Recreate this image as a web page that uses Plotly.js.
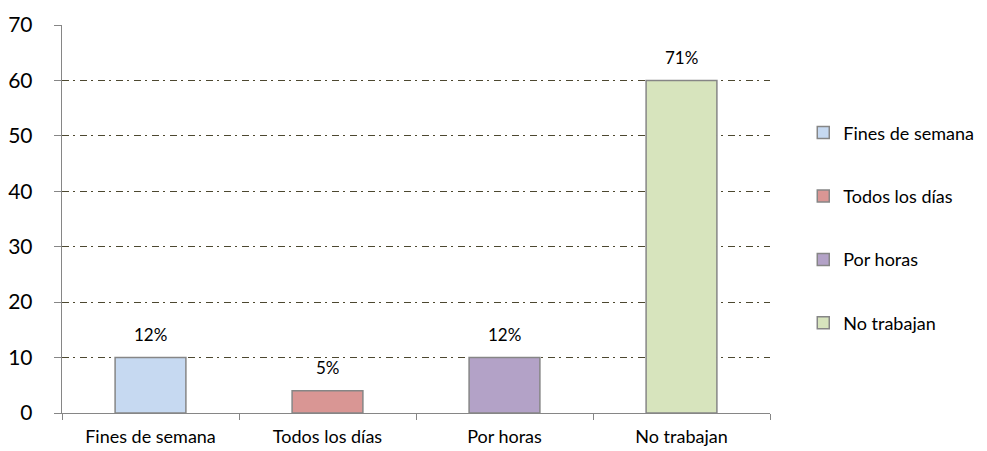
<!DOCTYPE html>
<html>
<head>
<meta charset="utf-8">
<script src="https://cdn.plot.ly/plotly-3.0.1.min.js"></script>
<style>html,body{margin:0;padding:0;background:#fff;}#chart{width:987px;height:451px;}</style>
</head>
<body>
<div id="chart"></div>
<script>
const categories = ["Fines de semana", "Todos los días", "Por horas", "No trabajan"];
const values = [10, 4, 10, 60];
const labels = ["12%", "5%", "12%", "71%"];
const colors = ["#c6d9f1", "#d99694", "#b3a2c7", "#d7e4bd"];

const font = "Lato, 'Open Sans', 'DejaVu Sans', sans-serif";

const traces = categories.map((c, i) => ({
  type: "bar",
  x: [c],
  y: [values[i]],
  name: c,
  legendgroup: "g" + i,
  width: 0.4,
  marker: {color: colors[i], line: {color: "#868686", width: 1.5}},
  hoverinfo: "none"
}));

const annotations = categories.map((c, i) => ({
  x: c, y: values[i], text: labels[i], showarrow: false,
  yshift: 23, yanchor: "middle", font: {family: font, size: 17, color: "#000"}
}));

const layout = {
  width: 987, height: 451,
  margin: {l: 62, r: 217, t: 25, b: 38, autoexpand: false},
  paper_bgcolor: "#fff", plot_bgcolor: "#fff",
  barmode: "overlay",
  showlegend: true,
  legend: {x: 1.047, y: 0.477, xanchor: "left", yanchor: "middle",
    tracegroupgap: 37, font: {family: font, size: 18, color: "#000"},
    itemwidth: 30},
  xaxis: {type: "category", showgrid: false, showline: true, linecolor: "#868686", linewidth: 1.3,
    ticks: "outside", tickson: "boundaries", ticklen: 6, tickcolor: "#868686",
    ticklabelstandoff: 7, automargin: false,
    tickfont: {family: font, size: 18, color: "#000"}, zeroline: false, fixedrange: true},
  yaxis: {range: [0, 70], dtick: 10, showgrid: true, gridcolor: "#4d4830", gridwidth: 1,
    griddash: "7px,4px,2px,5px",
    showline: true, linecolor: "#868686", linewidth: 1.3,
    ticks: "outside", ticklen: 7, tickcolor: "#868686",
    ticklabelstandoff: 17, automargin: false,
    tickfont: {family: font, size: 21, color: "#000"}, zeroline: false, fixedrange: true},
  annotations: annotations
};

Plotly.newPlot("chart", traces, layout, {displayModeBar: false, staticPlot: true});
</script>
</body>
</html>
